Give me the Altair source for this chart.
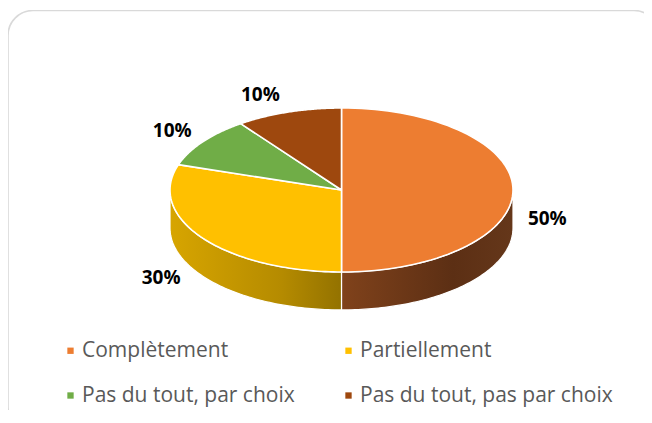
import math
import altair as alt
import pandas as pd

# ---- data ----
categories = ["Complètement", "Partiellement", "Pas du tout, par choix", "Pas du tout, pas par choix"]
values = [50, 30, 10, 10]
colors = ["#ED7D31", "#FFC000", "#70AD47", "#9E480E"]

# label placement (horizontal distance from centre, in radii) - style only
label_rx = [1.20, 1.30, 1.22, 1.53]

# side (wall) shading for slices on the front half
side_gradients = {
    "Complètement": ["#80421B", "#5C2F14", "#65371A"],
    "Partiellement": ["#D7A500", "#B58B00", "#937200"],
    "Pas du tout, par choix": ["#4F7A32", "#3E6027", "#3E6027"],
    "Pas du tout, pas par choix": ["#6F330A", "#572808", "#572808"],
}

# ---- geometry (unit circle, squashed by the scales) ----
DEPTH = 0.463
N = 80
total = sum(values)
top_rows, side_rows, label_rows = [], [], []
acc = 0.0
for cat, val, lrx in zip(categories, values, label_rx):
    a0 = acc / total * 2 * math.pi
    a1 = (acc + val) / total * 2 * math.pi
    acc += val
    top_rows.append(dict(cat=cat, i=0, t=0.0, r=0.0))
    for k in range(N + 1):
        top_rows.append(dict(cat=cat, i=k + 1, t=a0 + (a1 - a0) * k / N, r=1.0))
    top_rows.append(dict(cat=cat, i=N + 2, t=0.0, r=0.0))
    s0, s1 = max(a0, math.pi / 2), min(a1, 3 * math.pi / 2)
    if s1 > s0:
        for k in range(N + 1):
            side_rows.append(dict(cat=cat, i=k, t=s0 + (s1 - s0) * k / N))
    label_rows.append(dict(cat=cat, t=(a0 + a1) / 2, lrx=lrx, label=f"{round(100 * val / total)}%"))

df_top = pd.DataFrame(top_rows)
df_side = pd.DataFrame(side_rows)
df_lab = pd.DataFrame(label_rows)

W, H = 636, 400
CX, CY, RX, RY = 333.5, 180.0, 171.5, 82.0
xdom = [-CX / RX, (W - CX) / RX]
ydom = [-(H - CY) / RY, CY / RY]

X = alt.X("x:Q", scale=alt.Scale(domain=xdom, nice=False, zero=False), axis=None)
Y = alt.Y("y:Q", scale=alt.Scale(domain=ydom, nice=False, zero=False), axis=None)

# rounded frame of the chart area (runs past the window on the right and bottom)
frame = (
    alt.Chart(pd.DataFrame({"k": [0]}))
    .mark_rect(clip=True, fill="white", fillOpacity=0, stroke="#D9D9D9", strokeWidth=1.6, cornerRadius=25)
    .encode(x=alt.value(0), x2=alt.value(651), y=alt.value(0.5), y2=alt.value(421))
)
layers = [frame]

for cat in categories:
    sub = df_side[df_side.cat == cat] if len(df_side) else df_side
    if len(sub) == 0:
        continue
    g = side_gradients[cat]
    layers.append(
        alt.Chart(sub)
        .transform_calculate(x="sin(datum.t)", y="cos(datum.t)", y2=f"cos(datum.t) - {DEPTH}")
        .mark_area(
            color=alt.Gradient(
                gradient="linear",
                stops=[alt.GradientStop(color=g[0], offset=0),
                       alt.GradientStop(color=g[1], offset=0.65),
                       alt.GradientStop(color=g[2], offset=1)],
                x1=0, x2=1, y1=0, y2=0,
            ),
            stroke="white", strokeWidth=1.2,
        )
        .encode(x=X, y=Y, y2="y2:Q")
    )

top = (
    alt.Chart(df_top)
    .transform_calculate(x="datum.r * sin(datum.t)", y="datum.r * cos(datum.t)")
    .mark_line(stroke="white", strokeWidth=1.6, strokeJoin="round")
    .encode(
        x=X, y=Y,
        order="i:Q",
        detail="cat:N",
        fill=alt.Fill(
            "cat:N",
            sort=categories,
            scale=alt.Scale(domain=categories, range=colors),
            legend=alt.Legend(
                title=None, orient="none", legendX=52, legendY=330,
                direction="horizontal",
                columns=2, columnPadding=43, rowPadding=23,
                symbolType="square", symbolSize=40, symbolStrokeWidth=0,
                labelFont="Open Sans", labelFontSize=21, labelColor="#595959",
                labelOffset=1, labelLimit=400,
            ),
        ),
    )
)
layers.append(top)

labels = (
    alt.Chart(df_lab)
    .transform_calculate(
        x="datum.lrx * sin(datum.t)",
        y="1.22 * cos(datum.t) - (cos(datum.t) < 0.01 ? 0.35 : 0)",
    )
    .mark_text(font="Open Sans", fontWeight="bold", fontSize=19, color="black")
    .encode(x=X, y=Y, text="label:N")
)
layers.append(labels)

chart = (
    alt.layer(*layers)
    .properties(
        width=W, height=H,
        padding={"left": 0, "top": 2, "right": 0, "bottom": 0},
        autosize=alt.AutoSizeParams(type="none"),
    )
    .configure_view(stroke=None)
)

chart.save("out.html", embed_options={"renderer": "svg", "actions": False})
